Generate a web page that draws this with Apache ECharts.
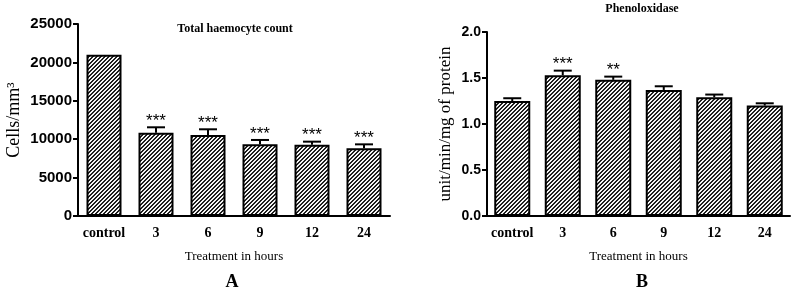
<!DOCTYPE html>
<html>
<head>
<meta charset="utf-8">
<script src="https://cdn.jsdelivr.net/npm/echarts@6/dist/echarts.min.js"></script>
<style>
  html, body { margin: 0; padding: 0; background: #fff; }
  #chart { width: 798px; height: 292px; }
</style>
</head>
<body>
<div id="chart"></div>
<script>
const categories = ['control', '3', '6', '9', '12', '24']

// Panel A - total haemocyte count (cells/mm3)
const thcValues = [21000, 10850, 10550, 9330, 9290, 8810]
const thcErrors = [0, 700, 740, 570, 390, 520]
const thcStars = ['', '***', '***', '***', '***', '***']

// Panel B - phenoloxidase (unit/min/mg of protein)
const poValues = [1.25, 1.53, 1.48, 1.37, 1.29, 1.20]
const poErrors = [0.03, 0.05, 0.035, 0.04, 0.03, 0.025]
const poStars = ['', '***', '**', '', '', '']

const serif = 'Liberation Serif'
const sans = 'Liberation Sans'

// diagonal hatch like the GraphPad fill
const makeHatch = () => {
  const c = document.createElement('canvas')
  c.width = 4
  c.height = 4
  const ctx = c.getContext('2d')
  const img = ctx.createImageData(4, 4)
  for (let y = 0; y < 4; y++) {
    for (let x = 0; x < 4; x++) {
      const k = (y * 4 + x) * 4
      const v = (x + y) % 4 < 2 ? 30 : 245
      img.data[k] = v; img.data[k + 1] = v; img.data[k + 2] = v; img.data[k + 3] = 255
    }
  }
  ctx.putImageData(img, 0, 0)
  return c
}
const hatch = { image: makeHatch(), repeat: 'repeat' }

const errorItem = (values, errors, stars) => (params, api) => {
  const i = params.dataIndex
  const base = api.coord([i, values[i]])
  const top = api.coord([i, values[i] + errors[i]])
  const x = base[0]
  const children = []
  if (errors[i] > 0) {
    children.push({ type: 'line', shape: { x1: x, y1: base[1], x2: x, y2: top[1] }, style: { stroke: '#000', lineWidth: 2 } })
    children.push({ type: 'line', shape: { x1: x - 9, y1: top[1], x2: x + 9, y2: top[1] }, style: { stroke: '#000', lineWidth: 2 } })
  }
  if (stars[i]) {
    children.push({
      type: 'text', x: x, y: top[1] - 6,
      style: { text: stars[i], font: '17px ' + sans, fill: '#000', align: 'center', verticalAlign: 'middle' }
    })
  }
  return { type: 'group', children }
}

const xAxisBase = (gridIndex) => ({
  type: 'category',
  gridIndex,
  data: categories,
  name: 'Treatment in hours',
  nameLocation: 'middle',
  nameGap: 34,
  nameTextStyle: { fontFamily: serif, fontSize: 13, color: '#000' },
  axisLine: { lineStyle: { color: '#000', width: 2 } },
  axisTick: { alignWithLabel: true, length: 5, lineStyle: { color: '#000', width: 2 } },
  axisLabel: { interval: 0, fontFamily: serif, fontWeight: 'bold', fontSize: 14, color: '#000', margin: 10 }
})

const yAxisBase = (gridIndex) => ({
  type: 'value',
  gridIndex,
  nameLocation: 'middle',
  nameRotate: 90,
  axisLine: { show: true, lineStyle: { color: '#000', width: 2 } },
  axisTick: { show: true, length: 5, lineStyle: { color: '#000', width: 2 } },
  splitLine: { show: false }
})

const chart = echarts.init(document.getElementById('chart'))
chart.setOption({
  animation: false,
  grid: [
    { left: 78, top: 24, width: 312, height: 192 },
    { left: 487, top: 32, width: 303, height: 184 }
  ],
  xAxis: [xAxisBase(0), xAxisBase(1)],
  yAxis: [
    Object.assign(yAxisBase(0), {
      min: 0, max: 25000, interval: 5000,
      name: 'Cells/mm³',
      nameGap: 55,
      nameTextStyle: { fontFamily: serif, fontSize: 18, color: '#000' },
      axisLabel: {
        fontFamily: sans, fontWeight: 'bold', fontSize: 15, color: '#000', margin: 6,
        formatter: (v) => String(v)
      }
    }),
    Object.assign(yAxisBase(1), {
      min: 0, max: 2, interval: 0.5,
      name: 'unit/min/mg of protein',
      nameGap: 33,
      nameTextStyle: { fontFamily: serif, fontSize: 17, color: '#000' },
      axisLabel: {
        fontFamily: sans, fontWeight: 'bold', fontSize: 14, color: '#000', margin: 6,
        formatter: (v) => v.toFixed(1)
      }
    })
  ],
  series: [
    {
      type: 'bar', xAxisIndex: 0, yAxisIndex: 0, data: thcValues, barWidth: 35,
      itemStyle: { color: hatch, borderColor: '#000', borderWidth: 2 }
    },
    {
      type: 'custom', xAxisIndex: 0, yAxisIndex: 0, z: 3,
      data: thcValues.map((v, i) => [i, v]),
      renderItem: errorItem(thcValues, thcErrors, thcStars)
    },
    {
      type: 'bar', xAxisIndex: 1, yAxisIndex: 1, data: poValues, barWidth: 36,
      itemStyle: { color: hatch, borderColor: '#000', borderWidth: 2 }
    },
    {
      type: 'custom', xAxisIndex: 1, yAxisIndex: 1, z: 3,
      data: poValues.map((v, i) => [i, v]),
      renderItem: errorItem(poValues, poErrors, poStars)
    }
  ],
  graphic: [
    { type: 'text', x: 235, y: 29, style: { text: 'Total haemocyte count', font: 'bold 12px ' + serif, fill: '#000', align: 'center', verticalAlign: 'middle' } },
    { type: 'text', x: 642, y: 9, style: { text: 'Phenoloxidase', font: 'bold 12px ' + serif, fill: '#000', align: 'center', verticalAlign: 'middle' } },
    { type: 'text', x: 232, y: 282, style: { text: 'A', font: 'bold 18px ' + serif, fill: '#000', align: 'center', verticalAlign: 'middle' } },
    { type: 'text', x: 642, y: 282, style: { text: 'B', font: 'bold 18px ' + serif, fill: '#000', align: 'center', verticalAlign: 'middle' } }
  ]
})
</script>
</body>
</html>
